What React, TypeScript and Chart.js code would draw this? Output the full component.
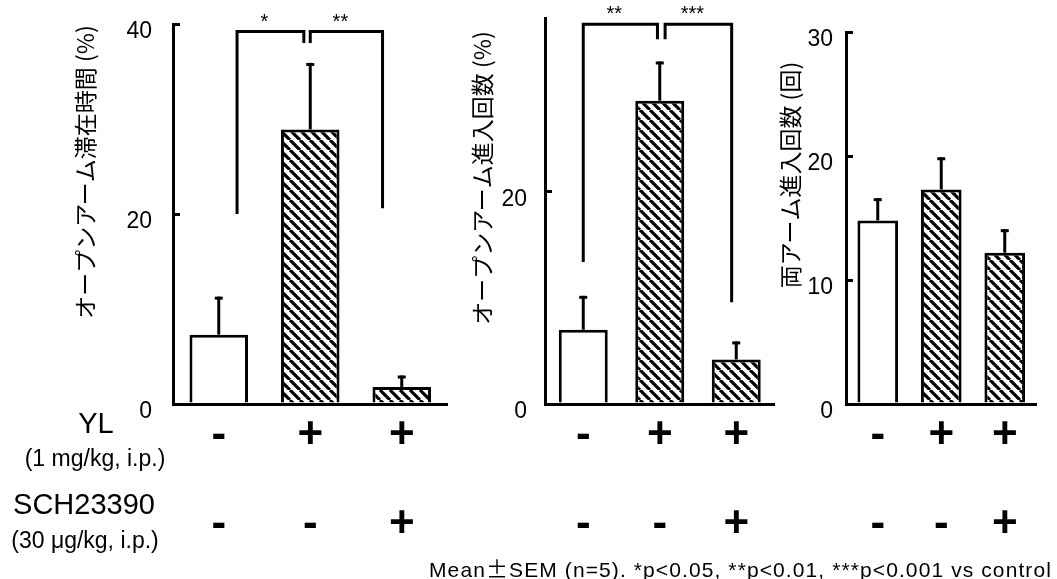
import React, { useEffect, useRef } from "react";
import { Chart, registerables } from "chart.js";

Chart.register(...registerables);

// ---------- data ----------
// x categories: [YL (1 mg/kg, i.p.), SCH23390 (30 µg/kg, i.p.)]
const GROUPS: string[][] = [
  ["-", "-"],
  ["+", "-"],
  ["+", "+"],
];

const OPEN_TIME_MEAN = [7.3, 28.9, 1.8];
const OPEN_TIME_SEM = [4.0, 7.0, 1.2];

const OPEN_ENTRY_MEAN = [7.0, 28.6, 4.2];
const OPEN_ENTRY_SEM = [3.2, 3.7, 1.7];

const TOTAL_ENTRY_MEAN = [14.8, 17.3, 12.2];
const TOTAL_ENTRY_SEM = [1.8, 2.6, 1.9];

// significance brackets: [from category, to category, left leg bottom, right leg bottom, top, label]
const OPEN_TIME_SIG: [number, number, number, number, number, string][] = [
  [0.2, 0.93, 20.0, 38.0, 39.2, "*"],
  [1.0, 1.79, 38.0, 20.6, 39.2, "**"],
];
const OPEN_ENTRY_SIG: [number, number, number, number, number, string][] = [
  [0.0, 0.97, 13.4, 34.4, 35.8, "**"],
  [1.07, 1.94, 34.4, 9.6, 35.8, "***"],
];
const TOTAL_ENTRY_SIG: [number, number, number, number, number, string][] = [];

const Y_TITLES = [
  "オープンアーム滞在時間 (%)",
  "オープンアーム進入回数 (%)",
  "両アーム進入回数 (回)",
];
const Y_MAX = [40, 36.4, 30];
const Y_STEP = [20, 20, 10];

const ROW_LABELS = ["YL", "(1 mg/kg, i.p.)", "SCH23390", "(30 μg/kg, i.p.)"];
const FOOTNOTE_A = "Mean";
const FOOTNOTE_PM = "±";
const FOOTNOTE_B = "SEM (n=5). *p<0.05, **p<0.01, ***p<0.001 vs control";

// ---------- layout / style ----------
const W = 1057;
const H = 579;
const BASE_Y = 404;
const Y_AXIS_W = 70;
const X_AXIS_H = 170;
const SANS = "'Liberation Sans', Arial, sans-serif";
const CJK = "'Noto Sans CJK JP', 'Noto Sans CJK SC', sans-serif";

const LAYOUT = [
  { left: 173, right: 447.5, top: 24, tickPad: 28, titleX: 85, titleY: 172 },
  { left: 545, right: 774.5, top: 18, tickPad: 25, titleX: 482, titleY: 178 },
  { left: 846, right: 1036.5, top: 32, tickPad: 20, titleX: 790, titleY: 175 },
];

function makeHatch(): CanvasPattern | string {
  const s = 10;
  const c = document.createElement("canvas");
  c.width = s;
  c.height = s;
  const g = c.getContext("2d");
  if (!g) return "#888";
  g.fillStyle = "#fff";
  g.fillRect(0, 0, s, s);
  g.strokeStyle = "#000";
  g.lineWidth = 3.2;
  g.beginPath();
  for (let k = -1; k <= 1; k++) {
    g.moveTo(k * s, 0);
    g.lineTo(k * s + s, s);
  }
  g.stroke();
  return g.createPattern(c, "repeat") || "#888";
}

const annotPlugin = {
  id: "annot",
  afterDatasetsDraw(chart: any, _args: any, opts: any) {
    const ctx: CanvasRenderingContext2D = chart.ctx;
    const xs = chart.scales.x;
    const ys = chart.scales.y;
    const meta = chart.getDatasetMeta(0);
    ctx.save();
    ctx.strokeStyle = "#000";
    ctx.fillStyle = "#000";
    ctx.lineWidth = 3;
    ctx.lineCap = "butt";
    ctx.lineJoin = "miter";
    // error bars (upper only)
    (opts.mean as number[]).forEach((m, i) => {
      const px = meta.data[i].x;
      const y0 = ys.getPixelForValue(m);
      const y1 = ys.getPixelForValue(m + opts.sem[i]);
      ctx.beginPath();
      ctx.moveTo(px, y0);
      ctx.lineTo(px, y1);
      ctx.stroke();
      ctx.beginPath();
      ctx.moveTo(px - 4, y1 + 1.5);
      ctx.lineTo(px + 4, y1 + 1.5);
      ctx.stroke();
    });
    // significance brackets
    ctx.font = `20px ${SANS}`;
    ctx.textAlign = "center";
    ctx.textBaseline = "alphabetic";
    (opts.sig as any[]).forEach(([from, to, lb, rb, top, label]) => {
      const xl = xs.getPixelForValue(from);
      const xr = xs.getPixelForValue(to);
      const yt = ys.getPixelForValue(top);
      ctx.beginPath();
      ctx.moveTo(xl, ys.getPixelForValue(lb));
      ctx.lineTo(xl, yt);
      ctx.lineTo(xr, yt);
      ctx.lineTo(xr, ys.getPixelForValue(rb));
      ctx.stroke();
      ctx.fillText(label, (xl + xr) / 2 - 6, yt - 4);
    });
    ctx.restore();
  },
  afterDraw(chart: any, _args: any, opts: any) {
    const ctx: CanvasRenderingContext2D = chart.ctx;
    ctx.save();
    ctx.translate(opts.titleX, opts.titleY);
    ctx.rotate(-Math.PI / 2);
    ctx.font = `23px ${CJK}`;
    ctx.fillStyle = "#000";
    ctx.textAlign = "center";
    ctx.textBaseline = "middle";
    ctx.fillText(opts.title, 0, 0);
    ctx.restore();
  },
};

function panelConfig(idx: number, mean: number[], sem: number[], sig: any[], hatch: any): any {
  const L = LAYOUT[idx];
  return {
    type: "bar",
    data: {
      labels: GROUPS,
      datasets: [
        {
          data: mean,
          backgroundColor: ["#ffffff", hatch, hatch],
          borderColor: "#000",
          borderWidth: 3,
          barPercentage: 0.64,
          categoryPercentage: 1,
        },
      ],
    },
    options: {
      responsive: false,
      animation: false,
      devicePixelRatio: 1,
      events: [],
      layout: {
        padding: {
          left: L.left - Y_AXIS_W,
          right: W - L.right,
          top: L.top,
          bottom: H - BASE_Y - X_AXIS_H,
        },
      },
      plugins: {
        legend: { display: false },
        tooltip: { enabled: false },
        annot: { mean, sem, sig, title: Y_TITLES[idx], titleX: L.titleX, titleY: L.titleY },
      },
      scales: {
        x: {
          grid: { display: false, drawTicks: false },
          border: { display: true, color: "#000", width: 3 },
          ticks: {
            color: "#000",
            font: { family: SANS, size: 44, weight: "bold", lineHeight: "89px" },
            padding: -12.5,
            maxRotation: 0,
            minRotation: 0,
            autoSkip: false,
          },
          afterFit: (s: any) => {
            s.height = X_AXIS_H;
            s.paddingLeft = 0;
            s.paddingRight = 0;
          },
        },
        y: {
          min: 0,
          max: Y_MAX[idx],
          border: { display: true, color: "#000", width: 3 },
          grid: {
            drawOnChartArea: false,
            drawTicks: true,
            tickLength: -7,
            color: "#000",
            tickColor: "#000",
            lineWidth: 3,
            tickWidth: 3,
          },
          ticks: {
            stepSize: Y_STEP[idx],
            includeBounds: false,
            color: "#000",
            font: { family: SANS, size: 23 },
            padding: L.tickPad,
            labelOffset: 8,
          },
          afterFit: (s: any) => {
            s.width = Y_AXIS_W;
            s.paddingTop = 0;
            s.paddingBottom = 0;
          },
        },
      },
    },
    plugins: [annotPlugin],
  };
}

function centered(cx: number, cy: number, size: number): React.CSSProperties {
  return {
    position: "absolute",
    left: cx,
    top: cy,
    transform: "translate(-50%, -50%)",
    whiteSpace: "nowrap",
    fontFamily: SANS,
    fontSize: size,
    lineHeight: 1,
    color: "#000",
  };
}

export default function App() {
  const r1 = useRef<HTMLCanvasElement>(null);
  const r2 = useRef<HTMLCanvasElement>(null);
  const r3 = useRef<HTMLCanvasElement>(null);

  useEffect(() => {
    const hatch = makeHatch();
    const charts: Chart[] = [];
    if (r1.current)
      charts.push(new Chart(r1.current, panelConfig(0, OPEN_TIME_MEAN, OPEN_TIME_SEM, OPEN_TIME_SIG, hatch)));
    if (r2.current)
      charts.push(new Chart(r2.current, panelConfig(1, OPEN_ENTRY_MEAN, OPEN_ENTRY_SEM, OPEN_ENTRY_SIG, hatch)));
    if (r3.current)
      charts.push(new Chart(r3.current, panelConfig(2, TOTAL_ENTRY_MEAN, TOTAL_ENTRY_SEM, TOTAL_ENTRY_SIG, hatch)));
    return () => charts.forEach((c) => c.destroy());
  }, []);

  const cs: React.CSSProperties = { position: "absolute", left: 0, top: 0, width: W, height: H };

  return (
    <div style={{ position: "absolute", left: 0, top: 0, width: W, height: H, background: "#fff", overflow: "hidden" }}>
      <canvas ref={r1} width={W} height={H} style={cs} />
      <canvas ref={r2} width={W} height={H} style={cs} />
      <canvas ref={r3} width={W} height={H} style={cs} />
      <div style={centered(96, 423, 29)}>{ROW_LABELS[0]}</div>
      <div style={centered(95, 458, 23)}>{ROW_LABELS[1]}</div>
      <div style={centered(84, 504, 29)}>{ROW_LABELS[2]}</div>
      <div style={centered(85, 540, 23)}>{ROW_LABELS[3]}</div>
      <div
        style={{
          position: "absolute",
          right: 5,
          top: 556,
          fontFamily: SANS,
          fontSize: 21,
          lineHeight: "22px",
          letterSpacing: 1.1,
          whiteSpace: "nowrap",
          color: "#000",
        }}
      >
        {FOOTNOTE_A}
        <span style={{ fontFamily: CJK, fontSize: 22 }}>{FOOTNOTE_PM}</span>
        {FOOTNOTE_B}
      </div>
    </div>
  );
}
